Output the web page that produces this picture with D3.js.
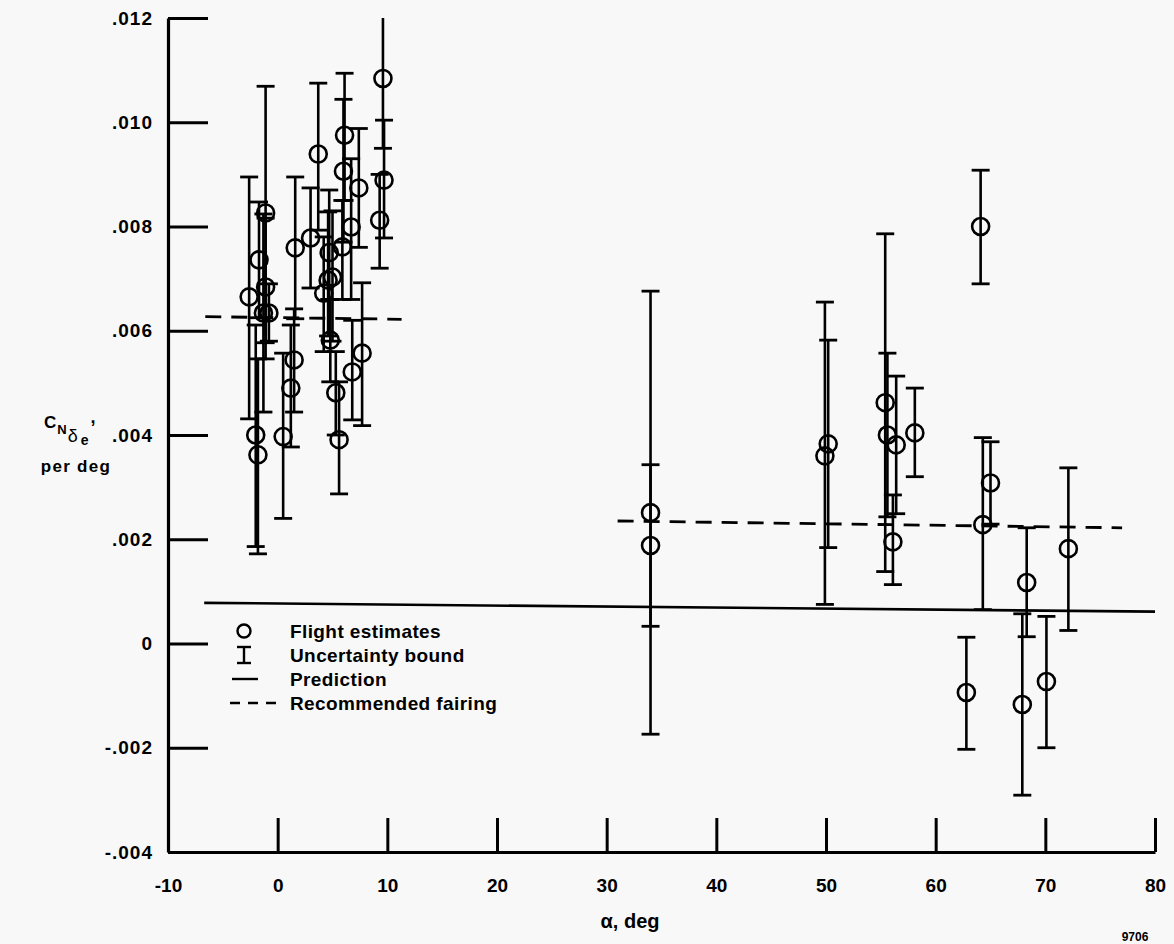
<!DOCTYPE html>
<html>
<head>
<meta charset="utf-8">
<script src="https://cdn.jsdelivr.net/npm/d3@7"></script>
<style>
  html, body { margin: 0; padding: 0; background: #f8f8f8; }
  svg { display: block; }
  text { font-family: "Liberation Sans", Arial, Helvetica, sans-serif; font-weight: bold; fill: #000; }
</style>
</head>
<body>
<svg id="chart" width="1174" height="944"></svg>
<script>
// Flight estimates of elevator yaw effectiveness vs angle of attack
const alphaDeg = [
  -2.6, -2.0, -1.8, -1.7, -1.3, -1.1, -1.1, -0.8, 0.5, 1.2, 1.5, 1.6, 3.0, 3.7,
  4.2, 4.6, 4.7, 4.8, 5.0, 5.3, 5.6, 5.9, 6.0, 6.1, 6.7, 6.8, 7.4, 7.7, 9.3, 9.6, 9.7,
  34.0, 34.0, 49.9, 50.2, 55.4, 55.6, 56.1, 56.4, 58.1, 62.8, 64.1, 64.3, 65.0,
  67.9, 68.3, 70.1, 72.1
];
const flightEstimate = [
  0.00665, 0.00400, 0.00362, 0.00736, 0.00634, 0.00826, 0.00684, 0.00634, 0.00397, 0.00490, 0.00544, 0.00759, 0.00778, 0.00939,
  0.00672, 0.00697, 0.00750, 0.00582, 0.00703, 0.00481, 0.00391, 0.00761, 0.00906, 0.00975, 0.00799, 0.00521, 0.00874, 0.00557, 0.00812, 0.01084, 0.00889,
  0.00251, 0.00188, 0.00360, 0.00383, 0.00462, 0.00400, 0.00195, 0.00381, 0.00404, -0.00094, 0.00800, 0.00228, 0.00308,
  -0.00117, 0.00117, -0.00073, 0.00182
];
const boundLow = [
  0.00431, 0.00186, 0.00172, 0.00625, 0.00444, 0.00577, 0.00546, 0.00580, 0.00240, 0.00377, 0.00444, 0.00623, 0.00682, 0.00793,
  0.00560, 0.00590, 0.00660, 0.00502, 0.00580, 0.00400, 0.00287, 0.00660, 0.00770, 0.00850, 0.00660, 0.00429, 0.00760, 0.00418, 0.00720, 0.00950, 0.00778,
  -0.00174, 0.00033, 0.00075, 0.00184, 0.00138, 0.00243, 0.00113, 0.00249, 0.00320, -0.00203, 0.00690, 0.00065, 0.00229,
  -0.00291, 0.00013, -0.00200, 0.00025
];
const boundHigh = [
  0.00895, 0.00611, 0.00546, 0.00847, 0.00824, 0.01069, 0.00816, 0.00690, 0.00557, 0.00611, 0.00642, 0.00895, 0.00874, 0.01075,
  0.00780, 0.00828, 0.00870, 0.00660, 0.00830, 0.00560, 0.00502, 0.00850, 0.01044, 0.01094, 0.00930, 0.00620, 0.00988, 0.00692, 0.00900, 0.01220, 0.01004,
  0.00676, 0.00343, 0.00655, 0.00582, 0.00786, 0.00557, 0.00285, 0.00513, 0.00490, 0.00012, 0.00908, 0.00395, 0.00387,
  0.00057, 0.00222, 0.00052, 0.00337
];

// Prediction (solid) and recommended fairing (dashed), as [alpha, value] pairs
const predictionLine = [[-6.7, 0.00078], [80.3, 0.00061]];
const fairingLow = [[-6.6, 0.00627], [11.3, 0.00622]];
const fairingHigh = [[31.0, 0.00235], [77.0, 0.00222]];

const xTicks = [-10, 0, 10, 20, 30, 40, 50, 60, 70, 80];
const xTickLabels = ["-10", "0", "10", "20", "30", "40", "50", "60", "70", "80"];
const yTicks = [-0.004, -0.002, 0, 0.002, 0.004, 0.006, 0.008, 0.010, 0.012];
const yTickLabels = ["-.004", "-.002", "0", ".002", ".004", ".006", ".008", ".010", ".012"];

const legendLabels = ["Flight estimates", "Uncertainty bound", "Prediction", "Recommended fairing"];

const svg = d3.select("#chart");
svg.append("rect").attr("width", 1174).attr("height", 944).attr("fill", "#f8f8f8");

const x = d3.scaleLinear().domain([-10, 80]).range([168, 1155]);
const y = d3.scaleLinear().domain([-0.004, 0.012]).range([852, 18]);

const ink = "#000";

// plot-area clip so bounds running past .012 stop at the frame top
svg.append("defs").append("clipPath").attr("id", "plotClip")
  .append("rect").attr("x", x(-10)).attr("y", y(0.012)).attr("width", x(80) - x(-10)).attr("height", y(-0.004) - y(0.012));

// y axis: ticks point into the plot, labels on the left
const yAxis = d3.axisLeft(y)
  .tickValues(yTicks)
  .tickFormat((d, i) => yTickLabels[i])
  .tickSizeInner(-40).tickSizeOuter(0).tickPadding(15);
const gy = svg.append("g").attr("transform", `translate(${x(-10)},0)`).call(yAxis);
gy.select(".domain").attr("stroke", ink).attr("stroke-width", 3.2);
gy.selectAll(".tick line").attr("stroke", ink).attr("stroke-width", 3);
gy.selectAll(".tick text").attr("font-size", 19).attr("letter-spacing", 1.0)
  .attr("font-family", "Liberation Sans, Arial, sans-serif").attr("font-weight", "bold").attr("fill", ink);

// x axis: ticks point up, labels below
const xAxis = d3.axisBottom(x)
  .tickValues(xTicks)
  .tickFormat((d, i) => xTickLabels[i])
  .tickSizeInner(-34).tickSizeOuter(0).tickPadding(27);
const gx = svg.append("g").attr("transform", `translate(0,${y(-0.004)})`).call(xAxis);
gx.select(".domain").attr("stroke", ink).attr("stroke-width", 3.2);
gx.selectAll(".tick line").attr("stroke", ink).attr("stroke-width", 3);
gx.selectAll(".tick").filter(d => d === -10).select("line").remove();
gx.selectAll(".tick text").attr("font-size", 19)
  .attr("font-family", "Liberation Sans, Arial, sans-serif").attr("font-weight", "bold").attr("fill", ink);

// axis titles
svg.append("text").attr("x", 630).attr("y", 928).attr("text-anchor", "middle").attr("font-size", 20)
  .text("α, deg");

const yTitle = svg.append("text").attr("x", 44).attr("y", 428).attr("font-size", 17);
yTitle.append("tspan").text("C");
yTitle.append("tspan").attr("font-size", 13).attr("dy", 6).attr("dx", 1).text("N");
yTitle.append("tspan").attr("font-size", 18).attr("font-weight", "normal").attr("dy", 8).attr("dx", 1).text("δ");
yTitle.append("tspan").attr("font-size", 14).attr("dy", 3).attr("dx", 3).text("e");
yTitle.append("tspan").attr("font-size", 18).attr("dy", -22).attr("dx", 2).text(",");
svg.append("text").attr("x", 76).attr("y", 472).attr("text-anchor", "middle").attr("font-size", 17)
  .attr("letter-spacing", 1.3).text("per deg");

svg.append("text").attr("x", 1135).attr("y", 941).attr("text-anchor", "middle").attr("font-size", 12).attr("font-weight", "normal").text("9706");

const plot = svg.append("g").attr("clip-path", "url(#plotClip)");

// fairing and prediction lines
const line = d3.line().x(d => x(d[0])).y(d => y(d[1]));
plot.append("path").datum(predictionLine).attr("d", line).attr("fill", "none").attr("stroke", ink).attr("stroke-width", 2.6);
[fairingLow, fairingHigh].forEach(seg => {
  plot.append("path").datum(seg).attr("d", line).attr("fill", "none").attr("stroke", ink)
    .attr("stroke-width", 2.8).attr("stroke-dasharray", "16,10");
});

// uncertainty bounds
const capHalf = 9;
const bars = plot.append("g").selectAll("g").data(alphaDeg.map((a, i) => i)).join("g");
bars.append("line")
  .attr("x1", i => x(alphaDeg[i])).attr("x2", i => x(alphaDeg[i]))
  .attr("y1", i => y(boundLow[i])).attr("y2", i => y(boundHigh[i]))
  .attr("stroke", ink).attr("stroke-width", 2.6);
["low", "high"].forEach(k => {
  bars.append("line")
    .attr("x1", i => x(alphaDeg[i]) - capHalf).attr("x2", i => x(alphaDeg[i]) + capHalf)
    .attr("y1", i => y(k === "low" ? boundLow[i] : boundHigh[i]))
    .attr("y2", i => y(k === "low" ? boundLow[i] : boundHigh[i]))
    .attr("stroke", ink).attr("stroke-width", 2.8);
});

// flight estimate markers
plot.append("g").selectAll("circle").data(alphaDeg.map((a, i) => i)).join("circle")
  .attr("cx", i => x(alphaDeg[i])).attr("cy", i => y(flightEstimate[i]))
  .attr("r", 8.5).attr("fill", "none").attr("stroke", ink).attr("stroke-width", 2.6);

// legend
const lg = svg.append("g");
const lx = 244, ly0 = 631, dy = 24;
lg.append("circle").attr("cx", lx).attr("cy", ly0).attr("r", 6.5).attr("fill", "none").attr("stroke", ink).attr("stroke-width", 2.4);
const iy = ly0 + dy;
lg.append("line").attr("x1", lx).attr("x2", lx).attr("y1", iy - 8).attr("y2", iy + 8).attr("stroke", ink).attr("stroke-width", 2.4);
lg.append("line").attr("x1", lx - 7).attr("x2", lx + 7).attr("y1", iy - 8).attr("y2", iy - 8).attr("stroke", ink).attr("stroke-width", 2.4);
lg.append("line").attr("x1", lx - 7).attr("x2", lx + 7).attr("y1", iy + 8).attr("y2", iy + 8).attr("stroke", ink).attr("stroke-width", 2.4);
lg.append("line").attr("x1", lx - 12).attr("x2", lx + 14).attr("y1", ly0 + 2 * dy).attr("y2", ly0 + 2 * dy).attr("stroke", ink).attr("stroke-width", 2.4);
lg.append("line").attr("x1", lx - 14).attr("x2", lx + 34).attr("y1", ly0 + 3 * dy).attr("y2", ly0 + 3 * dy)
  .attr("stroke", ink).attr("stroke-width", 2.4).attr("stroke-dasharray", "10,8");
lg.selectAll("text.leg").data(legendLabels).join("text").attr("class", "leg")
  .attr("x", 290).attr("y", (d, i) => ly0 + i * dy + 7).attr("font-size", 19).attr("letter-spacing", 0.4).text(d => d);
</script>
</body>
</html>
